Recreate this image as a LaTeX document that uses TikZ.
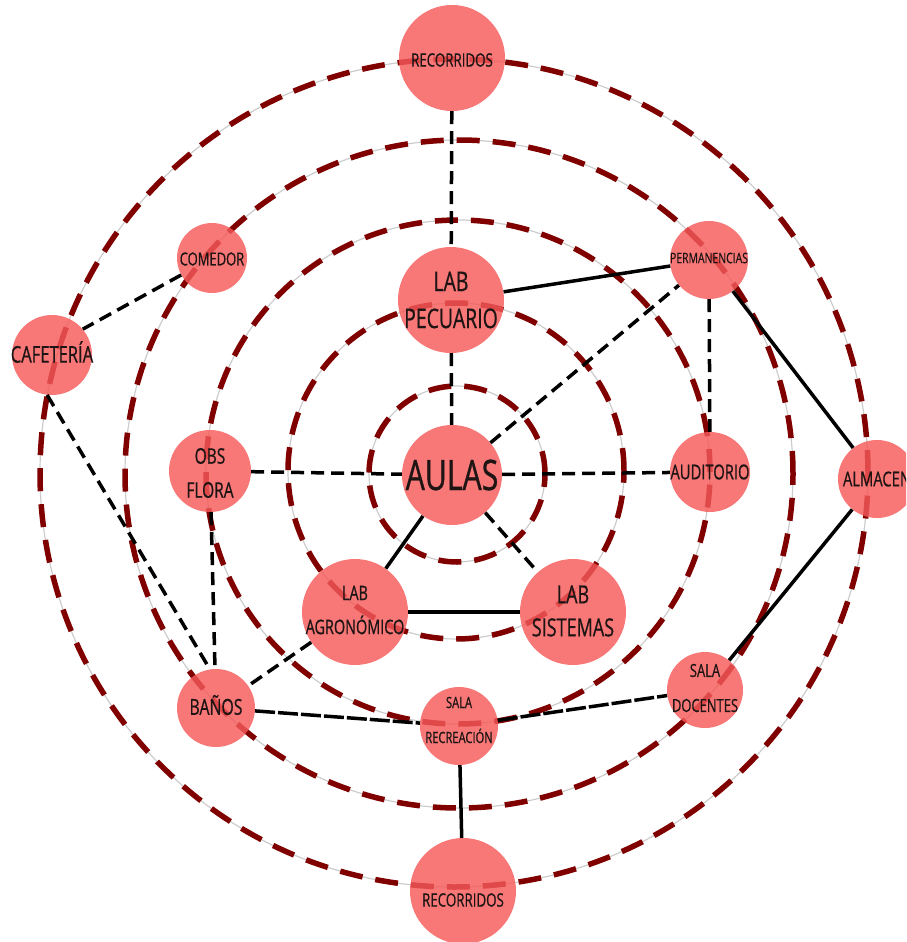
\documentclass[tikz,border=0pt]{standalone}
\usepackage{fontspec}
\setmainfont[FakeStretch=0.72,FakeBold=0.7]{Open Sans}
\definecolor{ringred}{RGB}{128,0,0}
\definecolor{roomfill}{RGB}{246,90,90}
\definecolor{txtcol}{RGB}{30,20,20}
\newcommand{\fsz}[2]{\fontsize{#1}{#2}\selectfont}
\begin{document}
\begin{tikzpicture}[x=1pt,y=-1pt,
 ringbase/.style={draw=black!20, line width=1.2pt},
 ringdash/.style={draw=ringred, line width=5.5pt, dash pattern=on 23pt off 13pt},
 room/.style={circle, fill=roomfill, fill opacity=0.82, inner sep=0pt, minimum size=#1},
 txt/.style={align=center, inner sep=0pt, text=txtcol},
 dl/.style={black, line width=3.5pt, dash pattern=on 13pt off 7pt},
 ld/.style={black, line width=3.5pt, dash pattern=on 20pt off 3pt},
 sl/.style={black, line width=3.5pt},
]
\useasboundingbox (0,0) rectangle (906,942);
\clip (0,0) rectangle (906,942);
% rings
\draw[ringbase] (457,474) circle[radius=88pt];
\draw[ringdash] (457,474) circle[radius=88pt];
\draw[ringbase] (456,471) circle[radius=168pt];
\draw[ringdash] (456,471) circle[radius=168pt];
\draw[ringbase] (458,472) circle[radius=252pt];
\draw[ringdash] (458,472) circle[radius=252pt];
\draw[ringbase] (459,474) circle[radius=334pt];
\draw[ringdash] (459,474) circle[radius=334pt];
\draw[ringbase] (454,473) circle[radius=414pt];
\draw[ringdash] (454,473) circle[radius=414pt];
% rooms
\node[room=106] (rect) at (452,58) {};
\node[room=106] (pec) at (451,300) {};
\node[room=100] (aulas) at (452,475) {};
\node[room=70] (com) at (212,258) {};
\node[room=78] (perm) at (709,260) {};
\node[room=80] (caf) at (52,355) {};
\node[room=82] (obs) at (210,471) {};
\node[room=80] (aud) at (710,472) {};
\node[room=78] (alm) at (877,479) {};
\node[room=106] (agro) at (355,612) {};
\node[room=106] (sis) at (573,612) {};
\node[room=78] (ban) at (216,708) {};
\node[room=78] (srec) at (459,726) {};
\node[room=76] (sdoc) at (705,690) {};
\node[room=106] (recb) at (463,891) {};
% connectors
\draw[dl] (rect) -- (pec);
\draw[dl] (pec) -- (aulas);
\draw[sl] (pec) -- (perm);
\draw[dl] (aulas) -- (perm);
\draw[dl] (perm) -- (aud);
\draw[sl] (perm) -- (alm);
\draw[dl] (com) -- (caf.40);
\draw[dl] (caf.-97) -- (ban.99);
\draw[dl] (obs) -- (aulas);
\draw[dl] (obs) -- (ban);
\draw[dl] (aulas) -- (aud);
\draw[sl] (aulas) -- (agro);
\draw[dl] (aulas) -- (sis);
\draw[sl] (agro) -- (sis);
\draw[dl] (agro) -- (ban);
\draw[ld] (ban) -- (srec);
\draw[ld] (srec) -- (sdoc);
\draw[sl] (alm) -- (sdoc);
\draw[sl] (srec) -- (recb);
% labels
\node[txt, font=\fsz{18.5}{22}] (trect) at (452,60) {RECORRIDOS};
\node[txt, font=\fsz{27}{37}] (tpec) at (451,300) {LAB\\PECUARIO};
\node[txt, font=\fsz{42}{48}] (taulas) at (452,475) {AULAS};
\node[txt, font=\fsz{18}{22}] (tcom) at (212,259) {COMEDOR};
\node[txt, font=\fsz{14.5}{18}] (tperm) at (709,258) {PERMANENCIAS};
\node[txt, font=\fsz{23}{27}] (tcaf) at (52,352) {CAFETERÍA};
\node[txt, font=\fsz{21.5}{34}] (tobs) at (210,473) {OBS\\FLORA};
\node[txt, font=\fsz{20.5}{24}] (taud) at (710,472) {AUDITORIO};
\node[txt, font=\fsz{20.5}{24}] (talm) at (877,479) {ALMACEN};
\node[txt, font=\fsz{20}{34}] (tagro) at (355,610) {LAB\\AGRONÓMICO};
\node[txt, font=\fsz{25}{33}] (tsis) at (573,611) {LAB\\SISTEMAS};
\node[txt, font=\fsz{22}{26}] (tban) at (216,705) {BAÑOS};
\node[txt, font=\fsz{15.5}{35}] (tsrec) at (459,720) {SALA\\RECREACIÓN};
\node[txt, font=\fsz{18}{35}] (tsdoc) at (705,688) {SALA\\DOCENTES};
\node[txt, font=\fsz{18.5}{22}] (trecb) at (463,900) {RECORRIDOS};
\end{tikzpicture}
\end{document}
